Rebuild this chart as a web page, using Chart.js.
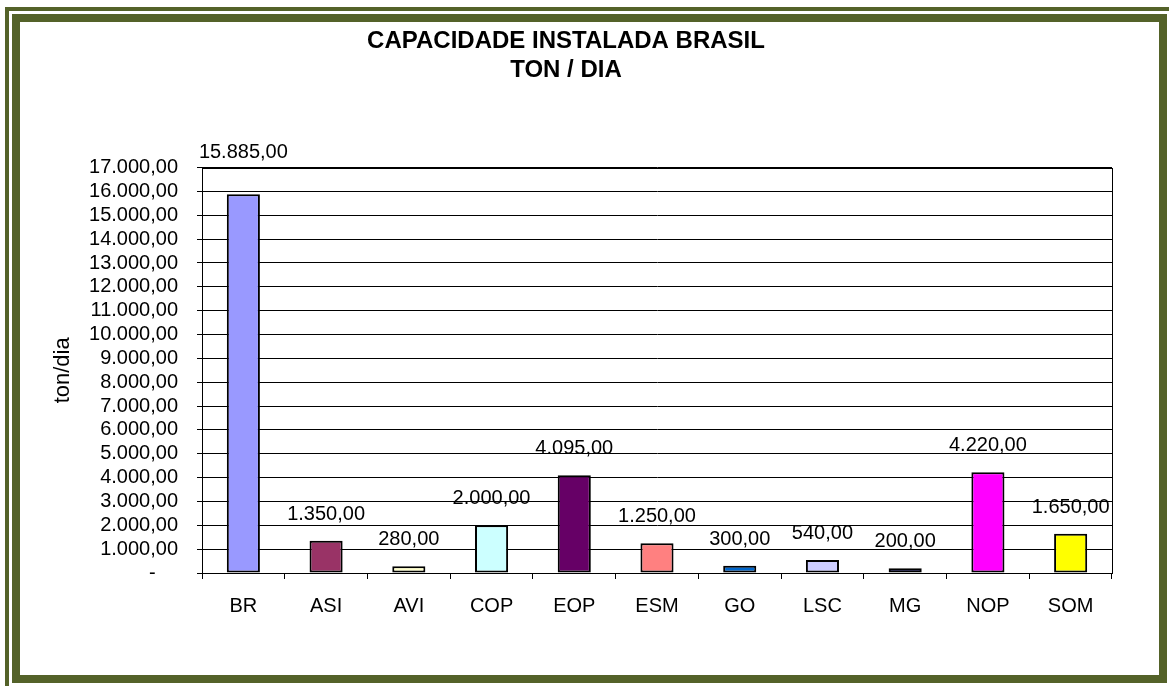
<!DOCTYPE html>
<html lang="pt">
<head>
<meta charset="UTF-8">
<title>Capacidade Instalada Brasil</title>
<script src="https://cdn.jsdelivr.net/npm/chart.js"></script>
<style>
    body { margin: 0; background: #fff; overflow: hidden; width: 1169px; height: 686px; position: relative; }
    .frame-outer { position: absolute; left: 5px; top: 7px; width: 1300px; height: 800px; border: 4px solid #546229; }
    .frame-inner { position: absolute; left: 12px; top: 14px; width: 1155px; height: 669px; box-sizing: border-box; border: 8px solid #546229; background: #fff; }
    #chart { position: absolute; left: 20px; top: 22px; }
</style>
</head>
<body>
<div class="frame-outer"></div>
<div class="frame-inner"></div>
<canvas id="chart" width="1139" height="653"></canvas>
<script>
    // data
    const categories = ['BR', 'ASI', 'AVI', 'COP', 'EOP', 'ESM', 'GO', 'LSC', 'MG', 'NOP', 'SOM'];
    const capacity = [15885, 1350, 280, 2000, 4095, 1250, 300, 540, 200, 4220, 1650];
    const barColors = ['#9999FF', '#993366', '#FFFFCC', '#CCFFFF', '#660066', '#FF8080',
                       '#0066CC', '#CCCCFF', '#000080', '#FF00FF', '#FFFF00'];
    const titleLines = ['CAPACIDADE INSTALADA BRASIL', 'TON / DIA'];
    const yTitle = 'ton/dia';
    const yMax = 17000;
    const yStep = 1000;

    const FONT = "'Liberation Sans', Arial, sans-serif";
    Chart.defaults.font.family = FONT;
    Chart.defaults.color = '#000';

    // 15885 -> "15.885,00"
    function fmtBR(v) {
        const parts = Number(v).toFixed(2).split('.');
        return parts[0].replace(/\B(?=(\d{3})+(?!\d))/g, '.') + ',' + parts[1];
    }

    // value labels above each bar, excel style
    const barLabels = {
        id: 'barLabels',
        afterDatasetsDraw(chart) {
            const ctx = chart.ctx;
            const area = chart.chartArea;
            const meta = chart.getDatasetMeta(0);
            ctx.save();
            ctx.font = '20px ' + FONT;
            ctx.fillStyle = '#000';
            ctx.textAlign = 'center';
            ctx.textBaseline = 'alphabetic';
            meta.data.forEach((bar, i) => {
                let y = bar.y - 21;
                if (y - 17 < area.top) y = area.top - 10;
                ctx.fillText(fmtBR(capacity[i]), bar.x, y);
            });
            ctx.restore();
        }
    };

    // plot area border
    const plotBorder = {
        id: 'plotBorder',
        afterDraw(chart) {
            const a = chart.chartArea;
            const ctx = chart.ctx;
            ctx.save();
            ctx.strokeStyle = '#000';
            ctx.lineWidth = 1;
            ctx.strokeRect(Math.round(a.left) + 0.5, Math.round(a.top) + 0.5,
                Math.round(a.right - a.left), Math.round(a.bottom - a.top));
            ctx.restore();
        }
    };

    new Chart(document.getElementById('chart'), {
        type: 'bar',
        data: {
            labels: categories,
            datasets: [{
                data: capacity,
                backgroundColor: barColors,
                borderColor: '#000',
                borderWidth: 2,
                borderSkipped: false,
                barPercentage: 0.4,
                categoryPercentage: 1.0
            }]
        },
        options: {
            responsive: false,
            animation: false,
            layout: { padding: { left: 0, right: 47, top: 0, bottom: 0 } },
            plugins: {
                legend: { display: false },
                tooltip: { enabled: false },
                title: {
                    display: true,
                    text: titleLines,
                    color: '#000',
                    font: { size: 24, weight: 'bold', lineHeight: 1.2 },
                    padding: { top: 5, bottom: 83 }
                }
            },
            scales: {
                x: {
                    afterFit(scale) { scale.height = 102; },
                    grid: { offset: true, drawOnChartArea: false, drawTicks: true, tickLength: 6, color: '#000' },
                    border: { display: true, color: '#000', width: 1 },
                    ticks: { font: { size: 20 }, padding: 15, maxRotation: 0, autoSkip: false }
                },
                y: {
                    min: 0,
                    max: yMax,
                    afterFit(scale) { scale.width = 182; },
                    grid: { color: '#000', lineWidth: 1, tickLength: 5 },
                    border: { display: true, color: '#000', width: 1 },
                    ticks: {
                        stepSize: yStep,
                        autoSkip: false,
                        font: { size: 20 },
                        padding: 19,
                        callback: v => v === 0 ? '-    ' : fmtBR(v)
                    },
                    title: {
                        display: true,
                        text: yTitle,
                        font: { size: 22 },
                        padding: { top: 30, bottom: 0 }
                    }
                }
            }
        },
        plugins: [barLabels, plotBorder]
    });
</script>
</body>
</html>
